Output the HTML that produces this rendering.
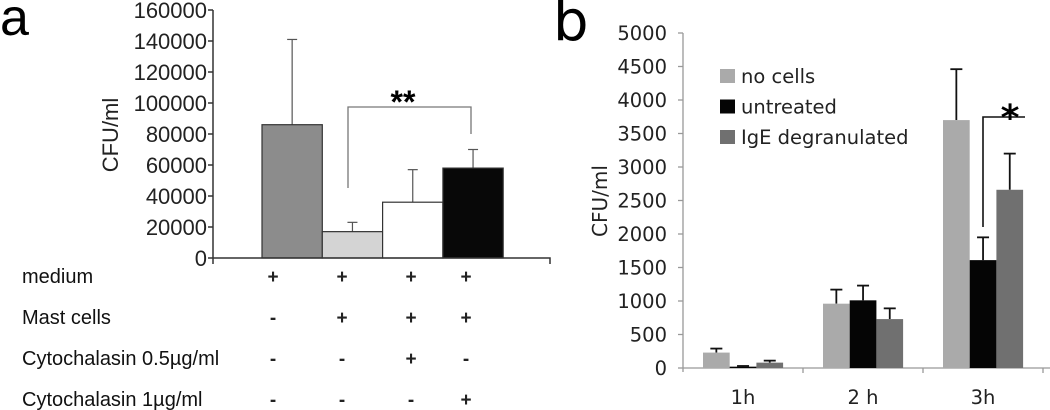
<!DOCTYPE html>
<html><head><meta charset="utf-8">
<style>
body{margin:0;background:#fff;}
svg{display:block;}
.fa{font-family:"Liberation Sans",Arial,sans-serif;}
.fb{font-family:"DejaVu Sans",Verdana,sans-serif;}
</style></head>
<body>
<svg width="1050" height="410" viewBox="0 0 1050 410" xmlns="http://www.w3.org/2000/svg">
<g id="pa"></g>
<g id="pb"></g>
</svg>
<script>
const NS="http://www.w3.org/2000/svg";
// Panel a data
const aTicks=[0,20000,40000,60000,80000,100000,120000,140000,160000];
const aValues=[86000,17000,36000,58000];
const aErrors=[141000,23000,57000,70000];
const aColors=["#8c8c8c","#d4d4d4","#ffffff","#080808"];
const aRows=["medium","Mast cells","Cytochalasin 0.5µg/ml","Cytochalasin 1µg/ml"];
const aSymbols=[["+","+","+","+"],["-","+","+","+"],["-","-","+","-"],["-","-","-","+"]];
// Panel b data
const bCats=["1h","2 h","3h"];
const bSeries=["no cells","untreated","IgE degranulated"];
const bValues=[[230,960,3700],[20,1010,1610],[80,730,2660]];
const bErrors=[[290,1170,4460],[30,1230,1950],[110,890,3200]];
const bTicks=[0,500,1000,1500,2000,2500,3000,3500,4000,4500,5000];
const bColors=["#aaaaaa","#050505","#707070"];

function mk(parent,tag,attrs,text){const e=document.createElementNS(NS,tag);for(const k in attrs)e.setAttribute(k,attrs[k]);if(text!==undefined)e.textContent=text;parent.appendChild(e);return e;}

// ---- panel a
const pa=document.getElementById('pa');
const ay=v=>258-v*(248/160000);
const ax0=213, aBarX=i=>262+i*60.3, aBW=60.3;
let t=mk(pa,'text',{x:0,y:35,'font-size':52,class:'fa'},'a');

let l=mk(pa,'line',{x1:ax0,y1:ay(160000),x2:ax0,y2:264,stroke:'#333','stroke-width':1.5});

aTicks.forEach(v=>{
  const tk=mk(pa,'line',{x1:ax0-5,y1:ay(v),x2:ax0,y2:ay(v),stroke:'#333','stroke-width':1.5});
  
  const tl=mk(pa,'text',{x:207,y:ay(v)+8,'font-size':22,'text-anchor':'end',fill:'#222',class:'fa'},String(v));
  
});
t=mk(pa,'text',{x:0,y:0,'font-size':22,'text-anchor':'middle',fill:'#222',class:'fa',transform:'translate(118,135) rotate(-90)'},'CFU/ml');

aValues.forEach((v,i)=>{
  const x=aBarX(i);
  const ex=x+aBW/2;
  const e=mk(pa,'line',{x1:ex,y1:ay(aErrors[i]),x2:ex,y2:ay(v),stroke:'#555','stroke-width':1.2});
  
  const c=mk(pa,'line',{x1:ex-5,y1:ay(aErrors[i]),x2:ex+5,y2:ay(aErrors[i]),stroke:'#555','stroke-width':1.2});
  
  const r=mk(pa,'rect',{x:x,y:ay(v),width:aBW,height:258-ay(v),fill:aColors[i],stroke:'#333','stroke-width':1.2});
  
});
l=mk(pa,'polyline',{points:`${ax0},258 550,258 550,264`,fill:'none',stroke:'#333','stroke-width':1.5});

l=mk(pa,'polyline',{points:'348,188 348,107 471,107 471,134',fill:'none',stroke:'#777','stroke-width':1.3});

t=mk(pa,'text',{x:403,y:113,'font-size':32,'font-weight':'bold','text-anchor':'middle',class:'fa'},'**');

const colX=[273,342,411,466];
aRows.forEach((r,j)=>{
  const y=283+j*41;
  const rl=mk(pa,'text',{x:22,y:y,'font-size':20,fill:'#111',class:'fa'},r);
  
  aSymbols[j].forEach((s,i)=>{
    const st=mk(pa,'text',{x:colX[i],y:y,'font-size':19,'font-weight':'bold','text-anchor':'middle',fill:'#222',class:'fa'},s);
    
  });
});

// ---- panel b
const pb=document.getElementById('pb');
const by=v=>368-v*(335/5000);
const bx0=683, gW=120, bW=26.7;
t=mk(pb,'text',{x:553,y:40,'font-size':56,class:'fb'},'b');

l=mk(pb,'line',{x1:bx0,y1:by(5000),x2:bx0,y2:372,stroke:'#999','stroke-width':1.3});

bTicks.forEach(v=>{
  const tk=mk(pb,'line',{x1:bx0-5,y1:by(v),x2:bx0,y2:by(v),stroke:'#999','stroke-width':1.3});
  
  const tl=mk(pb,'text',{x:667,y:by(v)+7,'font-size':19.5,'text-anchor':'end',fill:'#222',class:'fb'},String(v));
  
});
t=mk(pb,'text',{x:0,y:0,'font-size':20,'text-anchor':'middle',fill:'#222',class:'fb',transform:'translate(607,201) rotate(-90)'},'CFU/ml');

l=mk(pb,'line',{x1:bx0,y1:368,x2:1050,y2:368,stroke:'#999','stroke-width':1.3});

bCats.forEach((c,k)=>{
  const tk=mk(pb,'line',{x1:bx0+gW*(k+1),y1:368,x2:bx0+gW*(k+1),y2:373,stroke:'#999','stroke-width':1.3});
  
  const cl=mk(pb,'text',{x:bx0+gW*k+gW/2,y:404,'font-size':19.5,'text-anchor':'middle',fill:'#222',class:'fb'},c);
  
  bSeries.forEach((s,i)=>{
    const x=bx0+gW*k+20+i*bW, v=bValues[i][k], ev=bErrors[i][k], ex=x+bW/2;
    const e=mk(pb,'line',{x1:ex,y1:by(ev),x2:ex,y2:by(v),stroke:'#111','stroke-width':1.8});
    
    const cp=mk(pb,'line',{x1:ex-6,y1:by(ev),x2:ex+6,y2:by(ev),stroke:'#111','stroke-width':1.8});
    
    const r=mk(pb,'rect',{x:x,y:by(v),width:bW,height:368-by(v),fill:bColors[i]});
    
  });
});
bSeries.forEach((s,i)=>{
  const y=76+i*30.5;
  const sw=mk(pb,'rect',{x:720,y:y-7,width:15,height:14,fill:bColors[i]});
  
  const lt=mk(pb,'text',{x:741,y:y+7,'font-size':19.5,fill:'#222',class:'fb'},s);
  
});
l=mk(pb,'polyline',{points:'983,227 983,117 1025,117',fill:'none',stroke:'#111','stroke-width':1.6});

t=mk(pb,'text',{x:1010,y:130,'font-size':36,'font-weight':'bold','text-anchor':'middle',class:'fb'},'*');

</script>
</body></html>
